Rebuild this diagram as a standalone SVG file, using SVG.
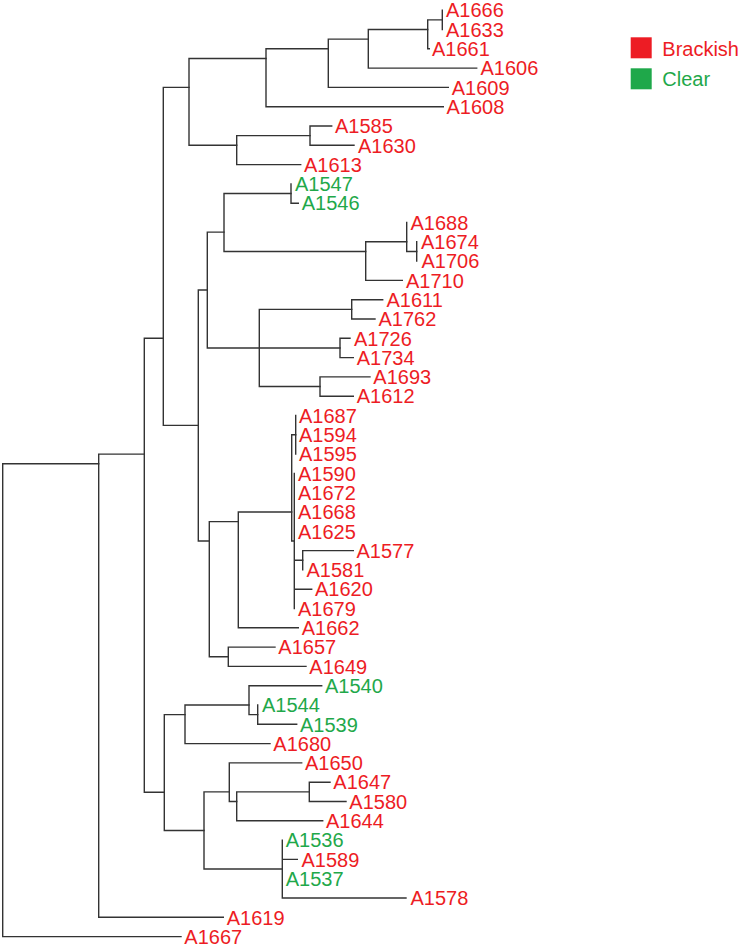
<svg xmlns="http://www.w3.org/2000/svg" width="742" height="947" viewBox="0 0 742 947">
<style>
.e{fill:none;stroke:#333;stroke-width:1.4;stroke-linecap:square}
text{font-family:"Liberation Sans",Arial,sans-serif;font-size:20px}
.r{fill:#ED1C24}
.g{fill:#1FA84A}
</style>
<rect width="742" height="947" fill="#fff"/>
<g id="connectors" class="e">
<path d="M442.3,10.2V29.5"/>
<path d="M427.7,19.85V48.8M427.7,19.85H442.3M427.7,48.8H429.3"/>
<path d="M368.3,29.5V68.1M368.3,29.5H427.7M368.3,68.1H476.7"/>
<path d="M328.3,39.15V87.4M328.3,39.15H368.3M328.3,87.4H448.3"/>
<path d="M266,48.8V106.7M266,48.8H328.3M266,106.7H443.3"/>
<path d="M310,126V145.3M310,126H331.7M310,145.3H354"/>
<path d="M236.7,135.65V164.6M236.7,135.65H310M236.7,164.6H300.7"/>
<path d="M189,58.45V145.3M189,58.45H266M189,145.3H236.7"/>
<path d="M291,183.9V203.2M291,203.2H298.3"/>
<path d="M416.7,241.8V261.1"/>
<path d="M406.7,222.5V251.45M406.7,251.45H416.7"/>
<path d="M365.7,241.8V280.4M365.7,241.8H406.7M365.7,280.4H402.3"/>
<path d="M224,193.55V251.45M224,193.55H291M224,251.45H365.7"/>
<path d="M351.7,299.7V319M351.7,299.7H382.7M351.7,319H375"/>
<path d="M340,338.3V357.6M340,338.3H350M340,357.6H353.3"/>
<path d="M320,376.9V396.2M320,376.9H370M320,396.2H353.3"/>
<path d="M259.3,309.35V386.55M259.3,309.35H351.7M259.3,347.95H340M259.3,386.55H320"/>
<path d="M207.3,232.15V347.95M207.3,232.15H224M207.3,347.95H259.3"/>
<path d="M295.7,415.5V454.1"/>
<path d="M302.7,550.6V569.9M302.7,550.6H353.3"/>
<path d="M294.3,473.4V608.5M294.3,560.25H302.7M294.3,589.2H311.7"/>
<path d="M291.7,434.8V541M291.7,434.8H295.7M291.7,541H294.3"/>
<path d="M238.3,512V627.8M238.3,512H291.7M238.3,627.8H298.3"/>
<path d="M228.3,647.1V666.4M228.3,647.1H275M228.3,666.4H306"/>
<path d="M209.3,521.65V656.75M209.3,521.65H238.3M209.3,656.75H228.3"/>
<path d="M198.3,290.05V540.95M198.3,290.05H207.3M198.3,540.95H209.3"/>
<path d="M163.3,87.4V425.4M163.3,87.4H189M163.3,425.4H198.3"/>
<path d="M257.7,705V724.3M257.7,724.3H296.7"/>
<path d="M249,685.7V714.65M249,685.7H321.7M249,714.65H257.7"/>
<path d="M185,705V743.6M185,705H249M185,743.6H270"/>
<path d="M309.3,782.2V801.5M309.3,782.2H330M309.3,801.5H346"/>
<path d="M236.7,791.85V820.8M236.7,791.85H309.3M236.7,820.8H322.7"/>
<path d="M229.3,762.9V801.5M229.3,762.9H301.7M229.3,801.5H236.7"/>
<path d="M282.3,840.1V898M282.3,859.4H297.3M282.3,898H406"/>
<path d="M204,791.85V869.05M204,791.85H229.3M204,869.05H282.3"/>
<path d="M164.3,714.65V830.45M164.3,714.65H185M164.3,830.45H204"/>
<path d="M144.3,338.3V792.3M144.3,338.3H163.3M144.3,792.3H164.3"/>
<path d="M98.7,454.1V917.3M98.7,454.1H144.3M98.7,917.3H223.3"/>
<path d="M2.7,463.75V936.6M2.7,463.75H98.7M2.7,936.6H181"/>
</g>
<g id="A1666"><text class="r" x="446" y="17.4">A1666</text></g>
<g id="A1633"><text class="r" x="446" y="36.7">A1633</text></g>
<g id="A1661"><text class="r" x="432" y="56">A1661</text></g>
<g id="A1606"><text class="r" x="480.5" y="75.3">A1606</text></g>
<g id="A1609"><text class="r" x="451.7" y="94.6">A1609</text></g>
<g id="A1608"><text class="r" x="446.5" y="113.9">A1608</text></g>
<g id="A1585"><text class="r" x="335" y="133.2">A1585</text></g>
<g id="A1630"><text class="r" x="358" y="152.5">A1630</text></g>
<g id="A1613"><text class="r" x="304" y="171.8">A1613</text></g>
<g id="A1547"><text class="g" x="295" y="191.1">A1547</text></g>
<g id="A1546"><text class="g" x="301.7" y="210.4">A1546</text></g>
<g id="A1688"><text class="r" x="410.5" y="229.7">A1688</text></g>
<g id="A1674"><text class="r" x="421" y="249">A1674</text></g>
<g id="A1706"><text class="r" x="421.5" y="268.3">A1706</text></g>
<g id="A1710"><text class="r" x="406" y="287.6">A1710</text></g>
<g id="A1611"><text class="r" x="386.5" y="306.9">A1611</text></g>
<g id="A1762"><text class="r" x="378.5" y="326.2">A1762</text></g>
<g id="A1726"><text class="r" x="354" y="345.5">A1726</text></g>
<g id="A1734"><text class="r" x="356.7" y="364.8">A1734</text></g>
<g id="A1693"><text class="r" x="373.3" y="384.1">A1693</text></g>
<g id="A1612"><text class="r" x="356.7" y="403.4">A1612</text></g>
<g id="A1687"><text class="r" x="299" y="422.7">A1687</text></g>
<g id="A1594"><text class="r" x="299" y="442">A1594</text></g>
<g id="A1595"><text class="r" x="299" y="461.3">A1595</text></g>
<g id="A1590"><text class="r" x="298" y="480.6">A1590</text></g>
<g id="A1672"><text class="r" x="298" y="499.9">A1672</text></g>
<g id="A1668"><text class="r" x="298" y="519.2">A1668</text></g>
<g id="A1625"><text class="r" x="298" y="538.5">A1625</text></g>
<g id="A1577"><text class="r" x="356.5" y="557.8">A1577</text></g>
<g id="A1581"><text class="r" x="306.5" y="577.1">A1581</text></g>
<g id="A1620"><text class="r" x="315" y="596.4">A1620</text></g>
<g id="A1679"><text class="r" x="298" y="615.7">A1679</text></g>
<g id="A1662"><text class="r" x="301.7" y="635">A1662</text></g>
<g id="A1657"><text class="r" x="278.3" y="654.3">A1657</text></g>
<g id="A1649"><text class="r" x="309.3" y="673.6">A1649</text></g>
<g id="A1540"><text class="g" x="325" y="692.9">A1540</text></g>
<g id="A1544"><text class="g" x="262" y="712.2">A1544</text></g>
<g id="A1539"><text class="g" x="300" y="731.5">A1539</text></g>
<g id="A1680"><text class="r" x="273.3" y="750.8">A1680</text></g>
<g id="A1650"><text class="r" x="305" y="770.1">A1650</text></g>
<g id="A1647"><text class="r" x="333.3" y="789.4">A1647</text></g>
<g id="A1580"><text class="r" x="349.3" y="808.7">A1580</text></g>
<g id="A1644"><text class="r" x="326" y="828">A1644</text></g>
<g id="A1536"><text class="g" x="285.7" y="847.3">A1536</text></g>
<g id="A1589"><text class="r" x="301.5" y="866.6">A1589</text></g>
<g id="A1537"><text class="g" x="285.7" y="885.9">A1537</text></g>
<g id="A1578"><text class="r" x="410.5" y="905.2">A1578</text></g>
<g id="A1619"><text class="r" x="226.7" y="924.5">A1619</text></g>
<g id="A1667"><text class="r" x="184.3" y="943.8">A1667</text></g>
<g id="legend">
<rect x="630.7" y="37.3" width="21" height="21" fill="#ED1C24"/>
<text class="r" x="662.3" y="55.5">Brackish</text>
<rect x="630.7" y="68.3" width="21" height="21" fill="#1FA84A"/>
<text class="g" x="662.3" y="86">Clear</text>
</g>
</svg>
